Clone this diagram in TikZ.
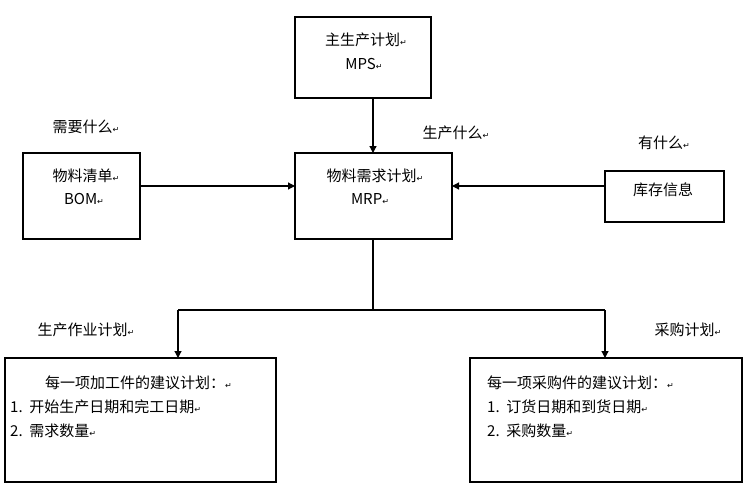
\documentclass[tikz,border=0pt]{standalone}
\usepackage{fontspec}
\setmainfont{Noto Sans CJK SC}
\newfontfamily\symf{DejaVu Sans}
\newcommand{\parmk}{{\symf\fontsize{8}{8}\selectfont ↵}}
\usetikzlibrary{arrows.meta}
\begin{document}
\begin{tikzpicture}[x=1pt,y=-1pt,
  box/.style={draw,line width=1.2pt},
  arr/.style={line width=1.2pt,-{Triangle[length=7pt,width=7pt]}},
  lab/.style={font=\fontsize{15}{18}\selectfont,inner sep=0pt},
  every node/.style={font=\fontsize{15}{18}\selectfont}]
\useasboundingbox (0,0) rectangle (752,487);
\fill[white] (0,0) rectangle (752,487);
\draw[box] (295,17) rectangle (431,98);
\draw[box] (23,153) rectangle (140,239);
\draw[box] (295,153) rectangle (452,239);
\draw[box] (605,171) rectangle (724,222);
\draw[box] (5,358) rectangle (276,482);
\draw[box] (470,358) rectangle (742,482);
\node[lab] (mps1) at (366,40) {主生产计划\parmk};
\node[lab] (mps2) at (364,64) {MPS\parmk};
\node[lab] (bom1) at (86,176) {物料清单\parmk};
\node[lab] (bom2) at (84,199) {BOM\parmk};
\node[lab] (mrp1) at (375,176) {物料需求计划\parmk};
\node[lab] (mrp2) at (370,199) {MRP\parmk};
\node[lab] (kc) at (663,190) {库存信息};
\node[lab] (q1) at (86,127) {需要什么\parmk};
\node[lab] (q2) at (456,133) {生产什么\parmk};
\node[lab] (q3) at (664,143) {有什么\parmk};
\node[lab] (q4) at (86,330) {生产作业计划\parmk};
\node[lab] (q5) at (688,330) {采购计划\parmk};
\node[lab,anchor=west] (l1) at (45,383) {每一项加工件的建议计划：\parmk};
\node[lab,anchor=west] (l2) at (10,407) {1.\ \ 开始生产日期和完工日期\parmk};
\node[lab,anchor=west] (l3) at (10,431) {2.\ \ 需求数量\parmk};
\node[lab,anchor=west] (r1) at (487,383) {每一项采购件的建议计划：\parmk};
\node[lab,anchor=west] (r2) at (487,407) {1.\ \ 订货日期和到货日期\parmk};
\node[lab,anchor=west] (r3) at (487,431) {2.\ \ 采购数量\parmk};
\coordinate (a) at (373,98); \coordinate (b) at (373,153);
\draw[arr] (a) -- (b);
\coordinate (c) at (140,186); \coordinate (d) at (295,186);
\draw[arr] (c) -- (d);
\coordinate (e) at (605,186); \coordinate (f) at (452,186);
\draw[arr] (e) -- (f);
\coordinate (g) at (373,239); \coordinate (h) at (373,310);
\coordinate (i) at (178,310); \coordinate (j) at (605,310);
\coordinate (i2) at (178,358); \coordinate (j2) at (605,358);
\draw[line width=1.2pt] (g) -- (h) (i) -- (j);
\draw[arr] (i) -- (i2);
\draw[arr] (j) -- (j2);
\end{tikzpicture}
\end{document}
